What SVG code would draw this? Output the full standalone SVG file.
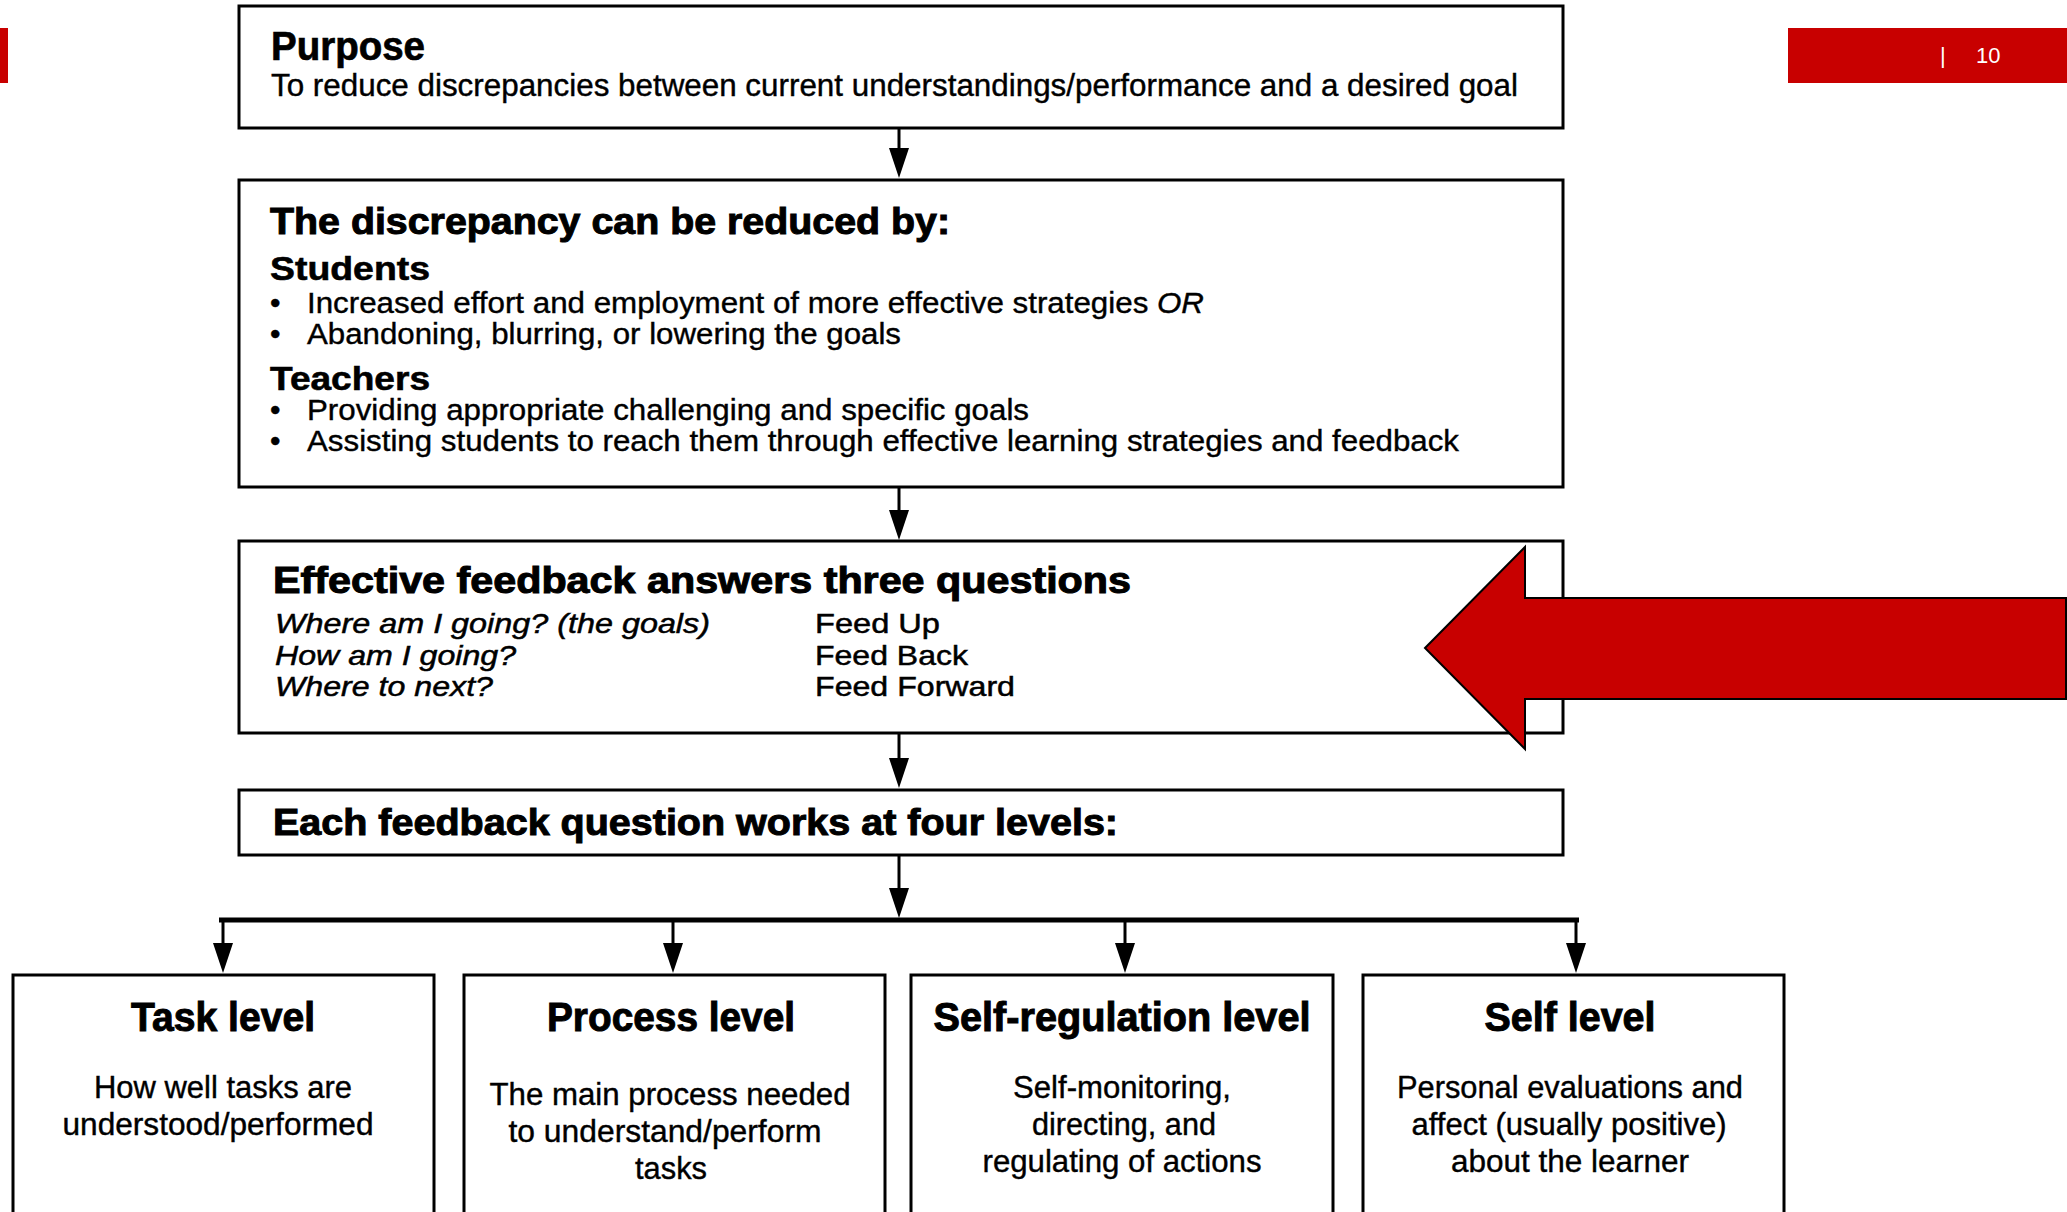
<svg xmlns="http://www.w3.org/2000/svg" width="2067" height="1212" viewBox="0 0 2067 1212">
<style>
text{font-family:"Liberation Sans",Arial,Helvetica,sans-serif;fill:#000}
.box{fill:#fff;stroke:#000;stroke-width:3}
.h{font-weight:bold;stroke:#000;stroke-width:1}
.t1{font-size:40px;font-weight:bold;stroke:#000;stroke-width:0.7}
.body{font-size:31px;stroke:#000;stroke-width:0.4}
.sub{font-size:34px;font-weight:bold;stroke:#000;stroke-width:0.6}
.li{font-size:30px;stroke:#000;stroke-width:0.4}
.q{font-size:28px;stroke:#000;stroke-width:0.5}
.lvl{font-size:41px;font-weight:bold;text-anchor:middle;stroke:#000;stroke-width:1}
.lb{font-size:31px;text-anchor:middle;stroke:#000;stroke-width:0.4}
.con{stroke:#000;stroke-width:3;fill:none}
</style>
<defs>
<marker id="ah" markerUnits="userSpaceOnUse" markerWidth="30" markerHeight="20" viewBox="0 0 30 20" refX="20" refY="10" orient="auto">
<path d="M0,0 L30,10 L0,20 Z" fill="#000"/>
</marker>
</defs>
<rect width="2067" height="1212" fill="#fff"/>
<g id="slide-marks">
<rect x="0" y="28" width="8" height="55" fill="#c80000"/>
<rect x="1788" y="28" width="279" height="55" fill="#c80000"/>
<text x="1940" y="63" style="font-size:22px;fill:#fff">|<tspan x="1976">10</tspan></text>
</g>
<g id="connectors">
<line class="con" x1="899" y1="128" x2="899" y2="168" marker-end="url(#ah)"/>
<line class="con" x1="899" y1="487" x2="899" y2="530" marker-end="url(#ah)"/>
<line class="con" x1="899" y1="733" x2="899" y2="778" marker-end="url(#ah)"/>
<line class="con" x1="899" y1="855" x2="899" y2="908" marker-end="url(#ah)"/>
<line x1="219" y1="920" x2="1579" y2="920" stroke="#000" stroke-width="5"/>
<line class="con" x1="223" y1="920" x2="223" y2="963" marker-end="url(#ah)"/>
<line class="con" x1="673" y1="920" x2="673" y2="963" marker-end="url(#ah)"/>
<line class="con" x1="1125" y1="920" x2="1125" y2="963" marker-end="url(#ah)"/>
<line class="con" x1="1576" y1="920" x2="1576" y2="963" marker-end="url(#ah)"/>
</g>
<g id="purpose">
<rect class="box" x="239" y="6" width="1324" height="122"/>
<text class="t1" x="271" y="60" textLength="154" lengthAdjust="spacingAndGlyphs">Purpose</text>
<text class="body" x="271" y="96" textLength="1247" lengthAdjust="spacingAndGlyphs">To reduce discrepancies between current understandings/performance and a desired goal</text>
</g>
<g id="discrepancy">
<rect class="box" x="239" y="180" width="1324" height="307"/>
<text class="h" x="270" y="234" style="font-size:37px" textLength="680" lengthAdjust="spacingAndGlyphs">The discrepancy can be reduced by:</text>
<text class="sub" x="270" y="280" textLength="160" lengthAdjust="spacingAndGlyphs">Students</text>
<text class="li" x="270" y="313">•</text>
<text class="li" x="307" y="313" textLength="897" lengthAdjust="spacingAndGlyphs">Increased effort and employment of more effective strategies <tspan font-style="italic">OR</tspan></text>
<text class="li" x="270" y="344">•</text>
<text class="li" x="307" y="344" textLength="594" lengthAdjust="spacingAndGlyphs">Abandoning, blurring, or lowering the goals</text>
<text class="sub" x="270" y="390" textLength="160" lengthAdjust="spacingAndGlyphs">Teachers</text>
<text class="li" x="270" y="420">•</text>
<text class="li" x="307" y="420" textLength="722" lengthAdjust="spacingAndGlyphs">Providing appropriate challenging and specific goals</text>
<text class="li" x="270" y="451">•</text>
<text class="li" x="307" y="451" textLength="1152" lengthAdjust="spacingAndGlyphs">Assisting students to reach them through effective learning strategies and feedback</text>
</g>
<g id="three-questions">
<rect class="box" x="239" y="541" width="1324" height="192"/>
<text class="h" x="273" y="593" style="font-size:36px" textLength="858" lengthAdjust="spacingAndGlyphs">Effective feedback answers three questions</text>
<text class="q" x="275" y="633" font-style="italic" textLength="435" lengthAdjust="spacingAndGlyphs">Where am I going? (the goals)</text>
<text class="q" x="275" y="665" font-style="italic" textLength="241" lengthAdjust="spacingAndGlyphs">How am I going?</text>
<text class="q" x="275" y="696" font-style="italic" textLength="218" lengthAdjust="spacingAndGlyphs">Where to next?</text>
<text class="q" x="815" y="633" textLength="125" lengthAdjust="spacingAndGlyphs">Feed Up</text>
<text class="q" x="815" y="665" textLength="153" lengthAdjust="spacingAndGlyphs">Feed Back</text>
<text class="q" x="815" y="696" textLength="200" lengthAdjust="spacingAndGlyphs">Feed Forward</text>
</g>
<g id="four-levels">
<rect class="box" x="239" y="790" width="1324" height="65"/>
<text class="h" x="273" y="835" style="font-size:37px" textLength="845" lengthAdjust="spacingAndGlyphs">Each feedback question works at four levels:</text>
</g>
<g id="task-level">
<rect class="box" x="13" y="975" width="421" height="300"/>
<text class="lvl" x="223" y="1031" textLength="184" lengthAdjust="spacingAndGlyphs">Task level</text>
<text class="lb" x="223" y="1098" textLength="258" lengthAdjust="spacingAndGlyphs">How well tasks are</text>
<text class="lb" x="218" y="1135" textLength="311" lengthAdjust="spacingAndGlyphs">understood/performed</text>
</g>
<g id="process-level">
<rect class="box" x="464" y="975" width="421" height="300"/>
<text class="lvl" x="671" y="1031" textLength="248" lengthAdjust="spacingAndGlyphs">Process level</text>
<text class="lb" x="670" y="1105" textLength="361" lengthAdjust="spacingAndGlyphs">The main process needed</text>
<text class="lb" x="665" y="1142" textLength="313" lengthAdjust="spacingAndGlyphs">to understand/perform</text>
<text class="lb" x="671" y="1179" textLength="72" lengthAdjust="spacingAndGlyphs">tasks</text>
</g>
<g id="self-regulation-level">
<rect class="box" x="911" y="975" width="422" height="300"/>
<text class="lvl" x="1122" y="1031" textLength="377" lengthAdjust="spacingAndGlyphs">Self-regulation level</text>
<text class="lb" x="1122" y="1098" textLength="218" lengthAdjust="spacingAndGlyphs">Self-monitoring,</text>
<text class="lb" x="1124" y="1135" textLength="184" lengthAdjust="spacingAndGlyphs">directing, and</text>
<text class="lb" x="1122" y="1172" textLength="279" lengthAdjust="spacingAndGlyphs">regulating of actions</text>
</g>
<g id="self-level">
<rect class="box" x="1363" y="975" width="421" height="300"/>
<text class="lvl" x="1570" y="1031" textLength="171" lengthAdjust="spacingAndGlyphs">Self level</text>
<text class="lb" x="1570" y="1098" textLength="346" lengthAdjust="spacingAndGlyphs">Personal evaluations and</text>
<text class="lb" x="1569" y="1135" textLength="315" lengthAdjust="spacingAndGlyphs">affect (usually positive)</text>
<text class="lb" x="1570" y="1172" textLength="238" lengthAdjust="spacingAndGlyphs">about the learner</text>
</g>
<g id="red-arrow">
<polygon points="1425,648 1525,547 1525,598 2066,598 2066,699 1525,699 1525,749" fill="#c80000" stroke="#000" stroke-width="2"/>
</g>
</svg>
